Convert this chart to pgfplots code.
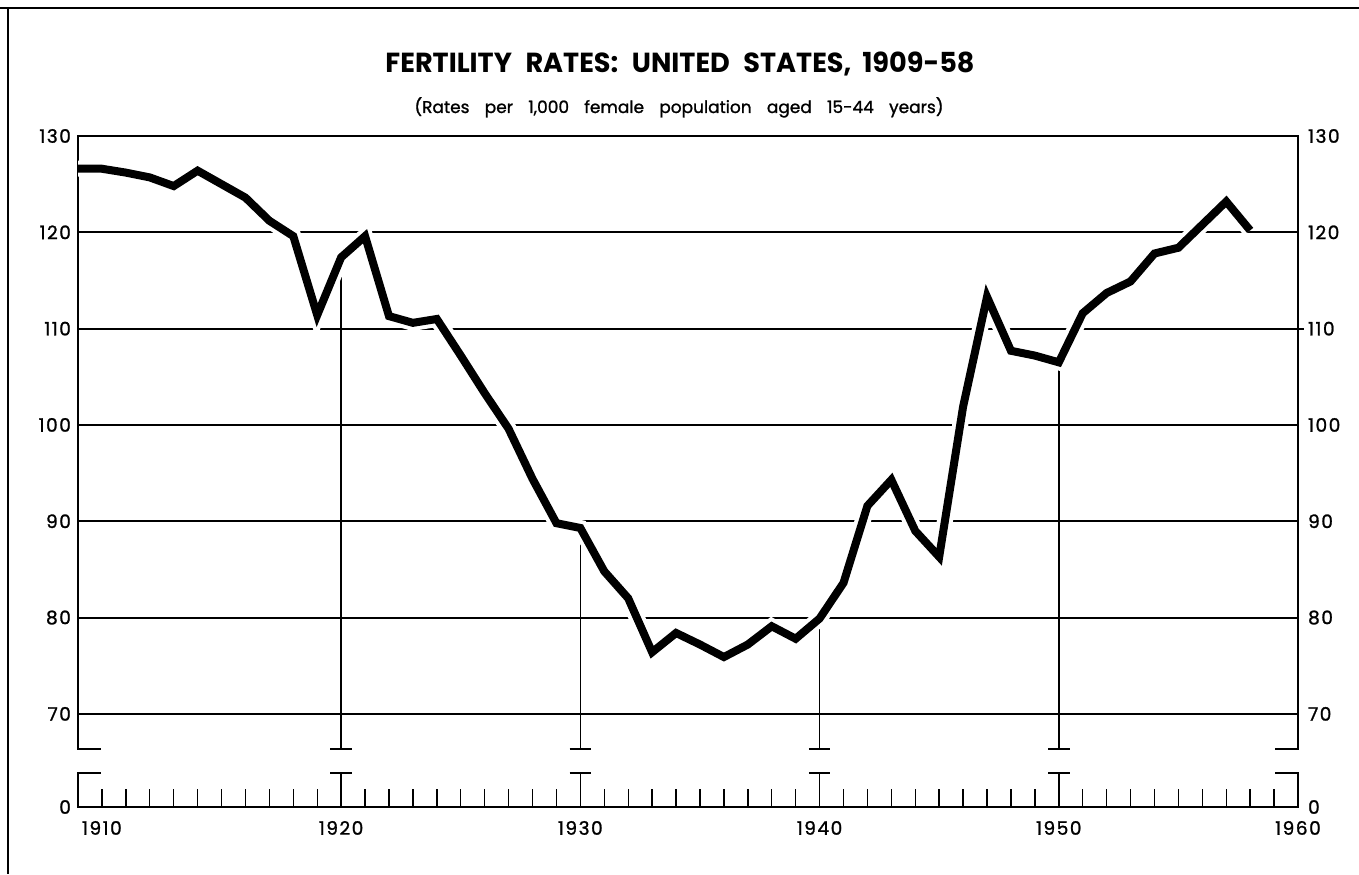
\documentclass[border=0pt]{standalone}
\usepackage{fontspec}
\setmainfont{Poppins}
\newfontfamily\tickfont{Poppins}[LetterSpace=8, FakeBold=1.2]
\newfontfamily\subfont{Poppins}[FakeBold=1.2]
\usepackage{pgfplots}
\pgfplotsset{compat=1.18}
\pgfplotstableread{
yr val
1909 126.6
1910 126.6
1911 126.2
1912 125.7
1913 124.8
1914 126.4
1915 125.0
1916 123.6
1917 121.2
1918 119.6
1919 111.4
1920 117.4
1921 119.6
1922 111.3
1923 110.6
1924 111.0
1925 107.2
1926 103.3
1927 99.6
1928 94.4
1929 89.8
1930 89.3
1931 84.8
1932 82.0
1933 76.4
1934 78.4
1935 77.2
1936 75.9
1937 77.2
1938 79.1
1939 77.8
1940 79.9
1941 83.6
1942 91.6
1943 94.3
1944 89.0
1945 86.3
1946 101.9
1947 113.3
1948 107.7
1949 107.2
1950 106.5
1951 111.6
1952 113.7
1953 114.9
1954 117.8
1955 118.4
1956 120.8
1957 123.2
1958 120.2
}\fert
\begin{document}
\begin{tikzpicture}
\useasboundingbox (0pt,0pt) rectangle (679.5pt,437pt);
\draw[line width=1pt] (0pt,433pt) -- (679.5pt,433pt);
\draw[line width=1pt] (4pt,433pt) -- (4pt,0pt);
\node[anchor=base] at (340pt,400.5pt) {\resizebox{294.5pt}{10.3pt}{\bfseries FERTILITY\hspace{0.5em}RATES:\hspace{0.5em}UNITED\hspace{0.5em}STATES,\hspace{0.4em}1909-58}};
\node[anchor=base] at (339.5pt,380.5pt) {\resizebox{264.5pt}{!}{\subfont\fontsize{7.4}{8}\selectfont (Rates\hspace{0.9em}per\hspace{0.9em}1,000\hspace{0.9em}female\hspace{0.9em}population\hspace{0.9em}aged\hspace{0.9em}15-44\hspace{0.9em}years)}};
\begin{axis}[
  at={(39pt,33.5pt)}, anchor=south west,
  scale only axis, width=610pt, height=335.5pt,
  xmin=1909, xmax=1960, ymin=60.33, ymax=130,
  axis line style={draw=none},
  clip=false,
  xtick={1910,1920,1930,1940,1950,1960},
  xticklabels={1910,1920,1930,1940,1950,1960},
  minor x tick num=9,
  xtick pos=bottom, tick align=inside,
  major tick length=9pt, minor tick length=9pt,
  every tick/.style={black, line width=0.7pt},
  ytick={60.33,70,80,90,100,110,120,130},
  yticklabels={0,70,80,90,100,110,120,130},
  ytick style={draw=none},
  tick label style={font=\tickfont\fontsize{9.3}{11}\selectfont},
  /pgf/number format/assume math mode=true,
  xticklabel style={yshift=-3.5pt},
  yticklabel style={xshift=0pt},
]
% gridlines
\pgfplotsinvokeforeach{70,80,90,100,120}{
  \addplot[black, line width=1pt, forget plot] coordinates {(1909,#1) (1960,#1)};
}
\addplot[black, line width=1pt, forget plot] coordinates {(1909,110) (1960.25,110)};
% frame upper part
\addplot[black, line width=1pt, forget plot] coordinates {(1909.95,66.34) (1909,66.34) (1909,130) (1960,130) (1960,66.34) (1959.05,66.34)};
% frame lower part
\addplot[black, line width=1.2pt, forget plot] coordinates {(1909.95,63.87) (1909,63.87) (1909,60.33) (1960,60.33) (1960,63.87) (1959.05,63.87)};
% decade markers
\addplot[black, line width=0.8pt, forget plot] coordinates {(1920,60.33) (1920,63.87)};
\addplot[black, line width=0.8pt, forget plot] coordinates {(1919.55,63.87) (1920.45,63.87)};
\addplot[black, line width=0.8pt, forget plot] coordinates {(1919.55,66.34) (1920.45,66.34)};
\addplot[black, line width=0.8pt, forget plot] coordinates {(1920,66.34) (1920,116.1)};
\addplot[black, line width=0.8pt, forget plot] coordinates {(1930,60.33) (1930,63.87)};
\addplot[black, line width=0.8pt, forget plot] coordinates {(1929.55,63.87) (1930.45,63.87)};
\addplot[black, line width=0.8pt, forget plot] coordinates {(1929.55,66.34) (1930.45,66.34)};
\addplot[black, line width=0.8pt, forget plot] coordinates {(1930,66.34) (1930,87.9)};
\addplot[black, line width=0.8pt, forget plot] coordinates {(1940,60.33) (1940,63.87)};
\addplot[black, line width=0.8pt, forget plot] coordinates {(1939.55,63.87) (1940.45,63.87)};
\addplot[black, line width=0.8pt, forget plot] coordinates {(1939.55,66.34) (1940.45,66.34)};
\addplot[black, line width=0.8pt, forget plot] coordinates {(1940,66.34) (1940,78.9)};
\addplot[black, line width=0.8pt, forget plot] coordinates {(1950,60.33) (1950,63.87)};
\addplot[black, line width=0.8pt, forget plot] coordinates {(1949.55,63.87) (1950.45,63.87)};
\addplot[black, line width=0.8pt, forget plot] coordinates {(1949.55,66.34) (1950.45,66.34)};
\addplot[black, line width=0.8pt, forget plot] coordinates {(1950,66.34) (1950,105.8)};
% curve with white halo
\addplot[white, line width=8pt, forget plot] table[x=yr, y=val] {\fert};
\addplot[black, line width=4pt, forget plot] table[x=yr, y=val] {\fert};
\end{axis}
\begin{axis}[
  at={(39pt,33.5pt)}, anchor=south west,
  scale only axis, width=610pt, height=335.5pt,
  xmin=1909, xmax=1960, ymin=60.33, ymax=130,
  hide x axis,
  axis y line*=right,
  axis line style={draw=none},
  ytick={60.33,70,80,90,100,110,120,130},
  yticklabels={0,70,80,90,100,110,120,130},
  ytick style={draw=none},
  tick label style={font=\tickfont\fontsize{9.3}{11}\selectfont},
  /pgf/number format/assume math mode=true,
  yticklabel style={xshift=1.5pt},
]
\end{axis}
\end{tikzpicture}
\end{document}
